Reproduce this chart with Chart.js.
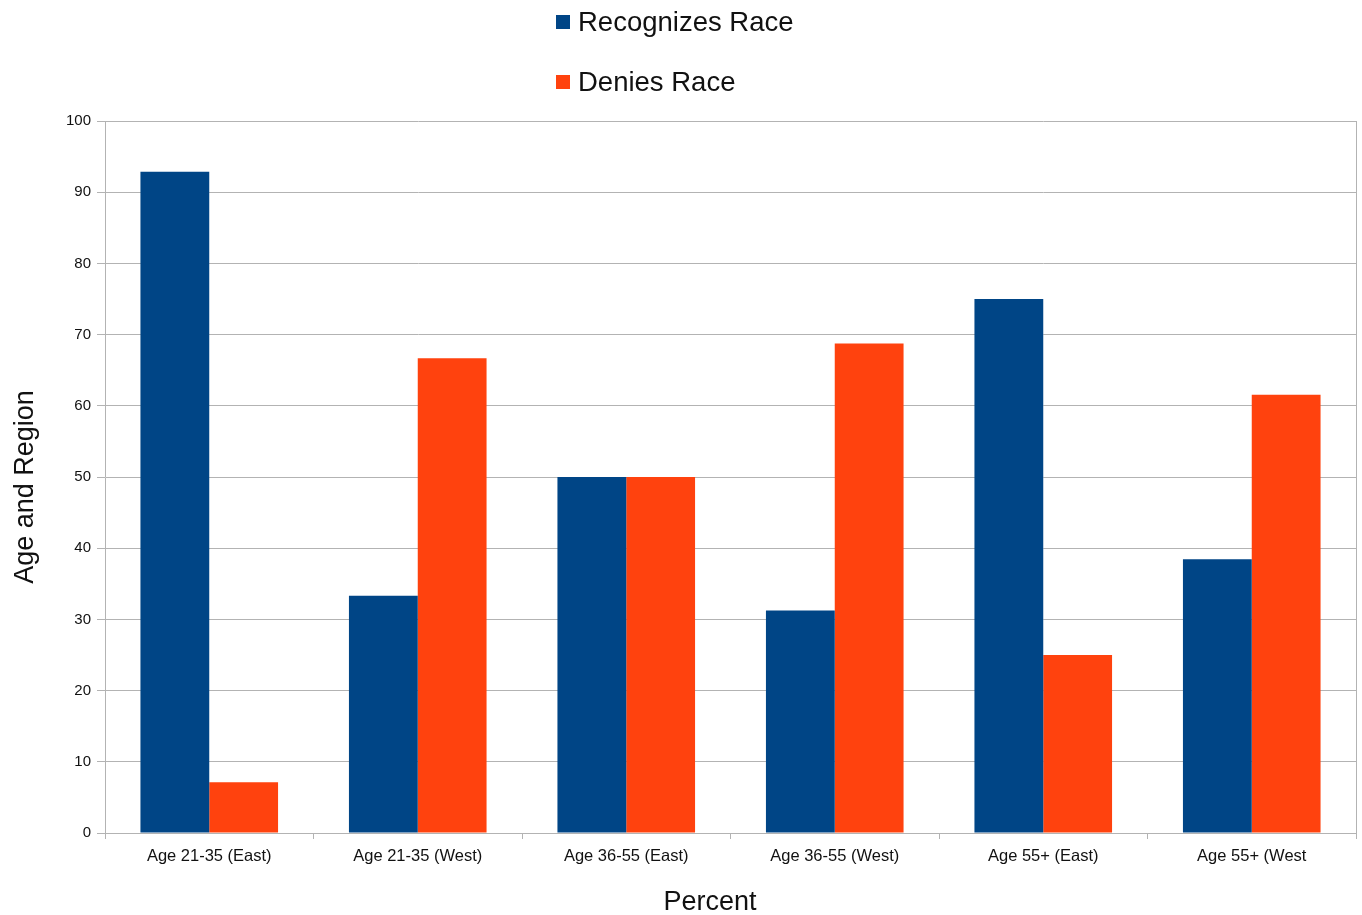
<!DOCTYPE html>
<html>
<head>
<meta charset="utf-8">
<script src="https://cdn.jsdelivr.net/npm/chart.js@4/dist/chart.umd.min.js"></script>
<style>
  html, body { margin: 0; padding: 0; background: #fff; }
  #wrap { position: relative; width: 1362px; height: 915px; }
  #legend { position: absolute; left: 556px; top: 4px; font-family: "Liberation Sans", Arial, sans-serif; font-size: 27.5px; color: #111; }
  .item { display: flex; align-items: center; height: 36px; margin-bottom: 24px; }
  .sw { width: 14px; height: 14px; margin-right: 8px; }
  .title { position: absolute; width: 300px; text-align: center; font-family: "Liberation Sans", Arial, sans-serif; font-size: 27px; color: #111; line-height: 34px; }
  #xtitle { left: 560px; top: 884px; }
  #ytitle { left: -126px; top: 470px; transform: rotate(-90deg); }
</style>
</head>
<body>
<div id="wrap">
  <canvas id="c" width="1362" height="915"></canvas>
  <div id="legend"></div>
  <div id="xtitle" class="title">Percent</div>
  <div id="ytitle" class="title">Age and Region</div>
</div>
<script>
// Survey shares by age group and region
const categories = ["Age 21-35 (East)", "Age 21-35 (West)", "Age 36-55 (East)", "Age 36-55 (West)", "Age 55+ (East)", "Age 55+ (West"];
const recognizes = [92.86, 33.33, 50, 31.25, 75, 38.46];
const denies = [7.14, 66.67, 50, 68.75, 25, 61.54];
const seriesNames = ["Recognizes Race", "Denies Race"];
const seriesColors = ["#004586", "#ff420e"];
const yTicks = [0, 10, 20, 30, 40, 50, 60, 70, 80, 90, 100];

// Legend stacked vertically above the plot
const legendEl = document.getElementById("legend");
seriesNames.forEach((name, i) => {
  const row = document.createElement("div");
  row.className = "item";
  const sw = document.createElement("div");
  sw.className = "sw";
  sw.style.background = seriesColors[i];
  const label = document.createElement("span");
  label.textContent = name;
  row.appendChild(sw);
  row.appendChild(label);
  legendEl.appendChild(row);
});

// Frame line along the right edge of the plot area
const rightBorder = {
  id: "rightBorder",
  afterDraw(chart) {
    const { ctx, chartArea } = chart;
    ctx.save();
    ctx.strokeStyle = "#b3b3b3";
    ctx.lineWidth = 1;
    ctx.beginPath();
    ctx.moveTo(Math.round(chartArea.right) + 0.5, chartArea.top);
    ctx.lineTo(Math.round(chartArea.right) + 0.5, chartArea.bottom);
    ctx.stroke();
    ctx.restore();
  }
};

const font = "'Liberation Sans', Arial, sans-serif";

new Chart(document.getElementById("c"), {
  type: "bar",
  data: {
    labels: categories,
    datasets: [
      { label: seriesNames[0], data: recognizes, backgroundColor: seriesColors[0] },
      { label: seriesNames[1], data: denies, backgroundColor: seriesColors[1] }
    ]
  },
  options: {
    responsive: false,
    animation: false,
    layout: { padding: { top: 121, right: 6, left: 0, bottom: 0 } },
    datasets: { bar: { categoryPercentage: 0.66, barPercentage: 1.0 } },
    plugins: { legend: { display: false }, tooltip: { enabled: false } },
    scales: {
      x: {
        grid: { drawOnChartArea: false, drawTicks: true, tickLength: 6, color: "#b3b3b3", offset: true },
        border: { color: "#b3b3b3", width: 1 },
        ticks: { color: "#111", font: { family: font, size: 16.5 }, padding: 8, maxRotation: 0, autoSkip: false },
        afterFit(scale) { scale.height = 82; }
      },
      y: {
        min: 0,
        max: 100,
        afterBuildTicks(scale) { scale.ticks = yTicks.map(v => ({ value: v })); },
        grid: { color: "#b3b3b3", tickLength: 8 },
        border: { color: "#b3b3b3", width: 1 },
        ticks: { color: "#111", font: { family: font, size: 15 }, padding: 6 },
        afterFit(scale) { scale.width = 105; }
      }
    }
  },
  plugins: [rightBorder]
});
</script>
</body>
</html>
